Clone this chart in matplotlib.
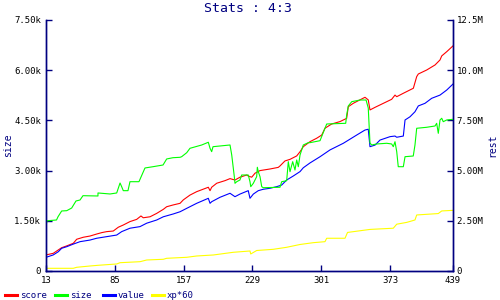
import matplotlib
matplotlib.use("Agg")
import matplotlib.pyplot as plt
from matplotlib.lines import Line2D

# ---- data ----
size_x = [13, 14, 24, 25.6, 29.4, 34.7, 39.9, 44.4, 48.6, 51.7, 67.4, 67.4, 80, 87, 90.5, 92.2,
          93.9, 98.8, 100.9, 110.3, 116.6, 125, 135.5, 139.3, 145.9, 153.3, 155, 160.3, 163.7,
          176, 182.9, 184.7, 186.4, 187.8, 205.6, 207.4, 210.1, 210.8, 212.6, 216, 217.8, 224.7,
          226.5, 227.3, 230, 233.5, 234.2, 235.2, 237, 238.8, 240.4, 257.9, 259.7, 264.9, 266.6,
          268.4, 271.2, 273.6, 275.4, 277.1, 278.9, 282.3, 287.5, 289.3, 299.8, 305, 306.8, 326.7,
          327.7, 329.4, 333, 341.7, 348, 350.3, 352.1, 353.9, 359.1, 369.6, 374.8, 376.5, 378.3,
          380.1, 381.7, 387, 388.8, 397.4, 399.2, 401, 411.5, 420.2, 421.9, 423.6, 425.4, 427.2,
          428.8, 432.4, 439]
size_v = [1320, 1500, 1524, 1622, 1793, 1802, 1882, 2092, 2121, 2250, 2241, 2331, 2301, 2331, 2629, 2519,
          2400, 2400, 2668, 2668, 3078, 3116, 3167, 3347, 3385, 3397, 3415, 3535, 3666,
          3765, 3846, 3666, 3565, 3714, 3765, 3466, 2818, 2620, 2668, 2719, 2868, 2868,
          2668, 2519, 2620, 2818, 3099, 2967, 2818, 2519, 2489, 2501, 2668, 2698, 3266,
          2967, 3266, 3018, 3317, 3116, 3466, 3765, 3834, 3834, 3893, 4264, 4392, 4413,
          4661, 4930, 5059, 5109, 5109, 4870, 3825, 3765, 3795, 3816, 3795, 3714, 3863,
          3565, 3116, 3116, 3415, 3436, 3765, 4264, 4294, 4333, 4413, 4114, 4512, 4563,
          4461, 4512, 4533]

score_x = [13, 20.6, 25.9, 29.4, 34.7, 41.6, 45.1, 52, 59, 66, 71.3, 76.5, 83.4, 88.7, 93.9, 100.9,
           107.9, 112.4, 114.8, 121.9, 128.9, 135.8, 139.3, 146.2, 153.3, 156.7, 163.7, 170.7,
           182.9, 184.7, 186.4, 191.7, 200.4, 205.6, 210.8, 216, 223.1, 224.7, 228.3, 231.8, 237,
           247.5, 256.1, 257.9, 263.1, 268.4, 275.4, 278.9, 282.3, 289.3, 296.3, 301.6, 305, 312,
           320.7, 327.7, 329.4, 334.6, 339.9, 346.9, 350.3, 352.1, 357.4, 366.1, 374.8, 378.3,
           380.1, 387, 397.5, 401, 402.7, 411.5, 420.2, 425.4, 427.2, 432.4, 439]
score_v = [0.80, 0.88, 1.05, 1.16, 1.25, 1.38, 1.58, 1.68, 1.74, 1.84, 1.91, 1.96, 1.99, 2.18, 2.29, 2.46,
           2.57, 2.74, 2.65, 2.70, 2.87, 3.07, 3.20, 3.29, 3.37, 3.54, 3.78, 3.95,
           4.17, 4.00, 4.17, 4.37, 4.50, 4.60, 4.53, 4.67, 4.78, 4.73, 4.67, 4.87, 5.00,
           5.08, 5.16, 5.23, 5.48, 5.56, 5.73, 5.94, 6.19, 6.44, 6.61, 6.77, 7.11, 7.32,
           7.44, 7.60, 8.18, 8.35, 8.48, 8.65, 8.52, 8.02, 8.15, 8.35, 8.55, 8.76,
           8.68, 8.85, 9.10, 9.68, 9.81, 10.01, 10.26, 10.51, 10.71, 10.92, 11.21]

value_x = [13, 20.6, 25.9, 29.4, 34.7, 41.6, 48.6, 59, 66, 76.5, 87, 92.2, 100.9, 111.4, 118.4, 128.9,
           135.8, 146.2, 153.3, 160.3, 170.7, 182.9, 184.7, 186.4, 195.1, 205.6, 210.8, 216, 224.7,
           226.5, 230, 235.2, 240.4, 247.5, 254.5, 259.7, 264.9, 271.8, 278.9, 282.3, 289.3, 299.8,
           310.3, 324.2, 338.2, 346.9, 350.3, 352.1, 357.4, 362.6, 373.1, 378.3, 380.1, 387, 388.8,
           394, 399.2, 402.7, 409.7, 416.7, 425.4, 432.4, 439]
value_v = [0.68, 0.80, 0.96, 1.13, 1.21, 1.34, 1.46, 1.54, 1.63, 1.71, 1.79, 1.96, 2.13, 2.21, 2.38, 2.54,
           2.70, 2.84, 2.95, 3.12, 3.37, 3.62, 3.37, 3.45, 3.67, 3.87, 3.70, 3.83, 4.00,
           3.62, 3.83, 4.00, 4.07, 4.12, 4.20, 4.28, 4.53, 4.73, 4.95, 5.14, 5.38, 5.69,
           6.03, 6.36, 6.77, 7.02, 7.06, 6.19, 6.27, 6.52, 6.69, 6.72, 6.66, 6.72, 7.52,
           7.68, 7.93, 8.22, 8.35, 8.60, 8.76, 9.01, 9.31]

xp_x = [13, 41.6, 45.1, 59, 67.7, 87, 90.5, 111.4, 118.4, 135.8, 139.3, 160.3, 170.7, 188.1, 209,
        226.5, 227.3, 233.5, 250.9, 264.9, 278.9, 292.8, 305, 306.8, 326, 328.6, 352.1, 376.5,
        380.1, 390.5, 399.2, 401, 423.6, 427.2, 439]
xp_v = [0.134, 0.134, 0.184, 0.249, 0.284, 0.349, 0.413, 0.463, 0.548, 0.583, 0.632, 0.682, 0.747,
        0.797, 0.931, 0.996, 0.847, 1.02, 1.08, 1.18, 1.32, 1.41, 1.46, 1.63, 1.63, 1.92, 2.07,
        2.13, 2.33, 2.42, 2.54, 2.79, 2.86, 2.99, 3.02]

x_ticks = [13, 85, 157, 229, 301, 373, 439]
left_ticks = [0, 1500, 3000, 4500, 6000, 7500]
left_labels = ["0", "1.50k", "3.00k", "4.50k", "6.00k", "7.50k"]
right_ticks = [0, 2.5, 5.0, 7.5, 10.0, 12.5]
right_labels = ["0", "2.50M", "5.00M", "7.50M", "10.0M", "12.5M"]

series_names = ["score", "size", "value", "xp*60"]
series_colors = ["#ff0000", "#00ff00", "#0000ff", "#ffff00"]
title = "Stats : 4:3"

NAVY = "#000080"
FONT = "DejaVu Sans Mono"
plt.rcParams["font.family"] = [FONT, "DejaVu Sans"]

fig = plt.figure(figsize=(5, 3), dpi=100)
ax = fig.add_axes([0.092, 0.0967, 0.814, 0.8367])
ax2 = ax.twinx()

lw = 0.8
ax2.plot(score_x, score_v, color=series_colors[0], lw=lw)
ax2.plot(value_x, value_v, color=series_colors[2], lw=lw)
ax2.plot(xp_x, xp_v, color=series_colors[3], lw=lw)
ax.plot(size_x, size_v, color=series_colors[1], lw=lw)
ax.set_zorder(ax2.get_zorder() + 1)
ax.patch.set_visible(False)

ax.set_xlim(13, 439)
ax.set_ylim(0, 7500)
ax2.set_ylim(0, 12.5)

for a in (ax, ax2):
    for s in a.spines.values():
        s.set_color(NAVY)
        s.set_linewidth(1.0)
    a.spines["top"].set_visible(False)

ax.set_xticks(x_ticks)
ax.set_xticklabels([str(t) for t in x_ticks])
ax.set_yticks(left_ticks)
ax.set_yticklabels(left_labels)
ax2.set_yticks(right_ticks)
ax2.set_yticklabels(right_labels)

ax.tick_params(axis="x", direction="in", length=4, width=1, color=NAVY, pad=3.5,
               labelsize=6.5, labelcolor="black")
ax.tick_params(axis="y", direction="in", length=4, width=1, color=NAVY, pad=3.5,
               labelsize=6.5, labelcolor="black")
ax2.tick_params(axis="y", direction="in", length=4, width=1, color=NAVY, pad=2.5,
                labelsize=6.5, labelcolor="black")

ax.set_ylabel("size", color=NAVY, fontsize=7)
ax.yaxis.set_label_coords(-0.082, 0.5)
ax2.set_ylabel("rest", color=NAVY, fontsize=7, rotation=90)
ax2.yaxis.set_label_coords(1.084, 0.5)

fig.text(0.497, 0.972, title, ha="center", va="center", color=NAVY, fontsize=9.5)

# legend row
leg_y = 1 - 295 / 300
starts = [5, 55, 103, 152]
for name, col, x0 in zip(series_names, series_colors, starts):
    fig.add_artist(Line2D([x0 / 500, (x0 + 12) / 500], [leg_y, leg_y],
                          transform=fig.transFigure, color=col, lw=2.2))
    fig.text((x0 + 15) / 500, leg_y, name, ha="left", va="center",
             color=NAVY, fontsize=6.5)

fig.savefig("out.png", dpi=100)
